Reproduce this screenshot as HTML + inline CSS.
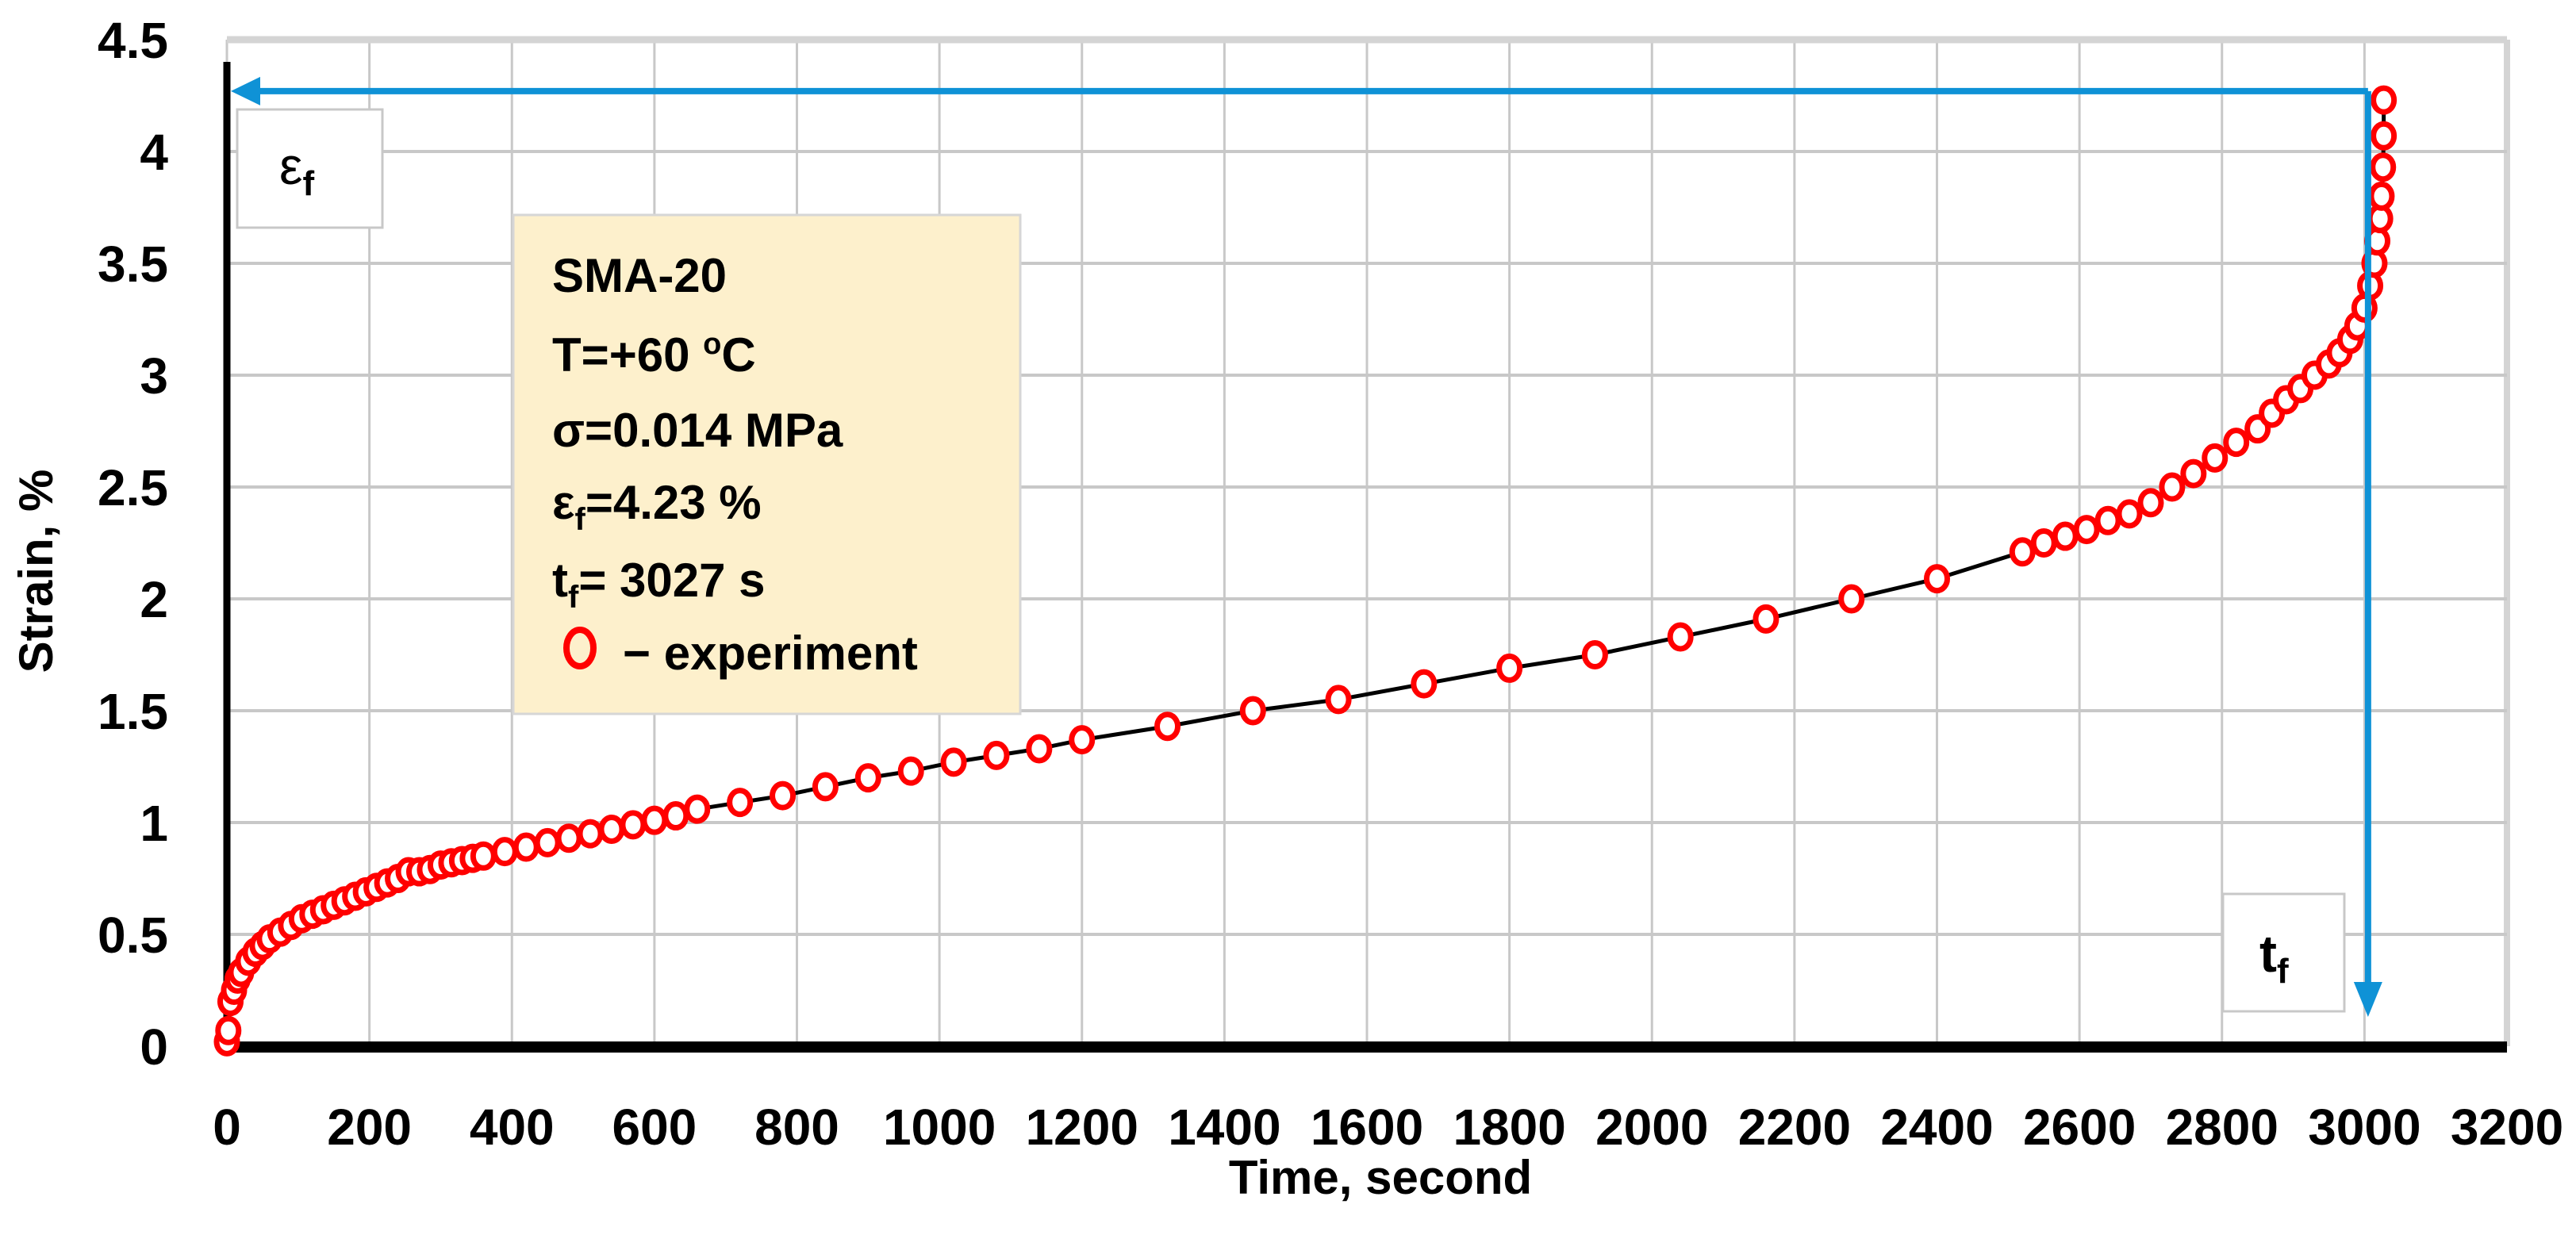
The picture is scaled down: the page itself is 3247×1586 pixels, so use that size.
<!DOCTYPE html>
<html><head><meta charset="utf-8"><style>
html,body{margin:0;padding:0;background:#fff;}
svg{display:block;font-family:"Liberation Sans",sans-serif;font-weight:bold;}
</style></head><body>
<svg id="chart" width="3247" height="1586" viewBox="0 0 3247 1586" xmlns="http://www.w3.org/2000/svg">
<g id="grid"></g>
<g id="axes"></g>
<g id="series"></g>
<g id="arrows"></g>
<g id="labels"></g>
</svg>
<script>
const xTicks = [0,200,400,600,800,1000,1200,1400,1600,1800,2000,2200,2400,2600,2800,3000,3200];
const yTicks = [0,0.5,1,1.5,2,2.5,3,3.5,4,4.5];
const yTickLabels = ["0","0.5","1","1.5","2","2.5","3","3.5","4","4.5"];
const timeS = [0,2,5,10,15,20,30,40,50,60,75,90,105,120,135,150,165,180,195,210,225,240,255,270,285,300,315,330,345,360,390,420,450,480,510,540,570,600,630,660,720,780,840,900,960,1020,1080,1140,1200,1320,1440,1560,1680,1800,1920,2040,2160,2280,2400,2520,2550,2580,2610,2640,2670,2700,2730,2760,2790,2820,2850,2870,2890,2910,2930,2950,2965,2980,2990,3000,3008,3014,3018,3022,3024,3026,3027,3027];
const strain = [0.02,0.07,0.2,0.25,0.3,0.33,0.38,0.42,0.45,0.48,0.51,0.54,0.57,0.59,0.61,0.63,0.65,0.67,0.69,0.71,0.73,0.75,0.78,0.78,0.79,0.81,0.82,0.83,0.84,0.85,0.87,0.89,0.91,0.93,0.95,0.97,0.99,1.01,1.03,1.06,1.09,1.12,1.16,1.2,1.23,1.27,1.3,1.33,1.37,1.43,1.5,1.55,1.62,1.69,1.75,1.83,1.91,2.0,2.09,2.21,2.25,2.28,2.31,2.35,2.38,2.43,2.5,2.56,2.63,2.7,2.76,2.83,2.89,2.94,3.0,3.05,3.1,3.16,3.22,3.3,3.4,3.5,3.6,3.7,3.8,3.93,4.07,4.23];
const epsF = 4.27;
const tF = 3005;

const NS="http://www.w3.org/2000/svg";
const X0=286, X1=3160, Y0=1319, Y1=50;
const xMax=3200, yMax=4.5;
function sx(v){return X0+(v/xMax)*(X1-X0);}
function sy(v){return Y0-(v/yMax)*(Y0-Y1);}
function mk(tag,attrs,parent,text){const e=document.createElementNS(NS,tag);for(const k in attrs)e.setAttribute(k,attrs[k]);if(text!==undefined)e.textContent=text;parent.appendChild(e);return e;}
const grid=document.getElementById('grid'),axes=document.getElementById('axes'),series=document.getElementById('series'),arrows=document.getElementById('arrows'),labels=document.getElementById('labels');

xTicks.forEach(t=>{
  const l=mk('line',{x1:sx(t),x2:sx(t),y1:Y1,y2:Y0,stroke:t===3200?'#d4d4d4':'#c8c8c8','stroke-width':t===3200?8:3},grid);
  
  
  const tx=mk('text',{x:sx(t),y:1443,'text-anchor':'middle','font-size':64,fill:'#000'},labels,String(t));
  
  
});
yTicks.forEach((v,i)=>{
  const l=mk('line',{x1:X0,x2:X1,y1:sy(v),y2:sy(v),stroke:i===yTicks.length-1?'#d4d4d4':'#c8c8c8','stroke-width':i===yTicks.length-1?9:4},grid);
  
  
  const tx=mk('text',{x:212,y:sy(v)+23,'text-anchor':'end','font-size':64,fill:'#000'},labels,yTickLabels[i]);
  
  
});
const ya=mk('line',{x1:X0,x2:X0,y1:Y1+28,y2:Y0+8,stroke:'#000','stroke-width':9},axes);


const xa=mk('line',{x1:X0-4,x2:X1,y1:Y0+1,y2:Y0+1,stroke:'#000','stroke-width':14},axes);



let d='';timeS.forEach((t,i)=>{d+=(i?'L':'M')+sx(t)+','+sy(strain[i]);});
const pl=mk('path',{d:d,fill:'none',stroke:'#000','stroke-width':5},series);


timeS.forEach((t,i)=>{
  const c=mk('ellipse',{cx:sx(t),cy:sy(strain[i]),rx:13,ry:15,fill:'#fff',stroke:'#ff0000','stroke-width':7},series);
  
  
});

const ay=sy(epsF), ax=sx(tF);
const h=mk('line',{x1:ax,x2:X0+30,y1:ay,y2:ay,stroke:'#0f92d6','stroke-width':8},arrows);


const hh=mk('polygon',{points:`${X0+5},${ay} ${X0+42},${ay-18} ${X0+42},${ay+18}`,fill:'#0f92d6'},arrows);


const v=mk('line',{x1:ax,x2:ax,y1:ay,y2:1245,stroke:'#0f92d6','stroke-width':8},arrows);


const vh=mk('polygon',{points:`${ax},1282 ${ax-18},1238 ${ax+18},1238`,fill:'#0f92d6'},arrows);


</script>
<svg style="position:absolute;left:0;top:0" width="3247" height="1586" xmlns="http://www.w3.org/2000/svg" font-family="Liberation Sans, sans-serif" font-weight="bold">
<g>
<rect x="299" y="138" width="183" height="149" fill="#fff" stroke="#c8c8c8" stroke-width="3"/>
<text x="352" y="232" font-size="66" font-weight="normal">ε<tspan font-size="44" dy="14" font-weight="bold">f</tspan></text>
</g>
<g>
<rect x="2802" y="1127" width="153" height="148" fill="#fff" stroke="#c8c8c8" stroke-width="3"/>
<text x="2848" y="1225" font-size="66">t<tspan font-size="44" dy="14">f</tspan></text>
</g>
<g>
<rect x="647" y="271" width="639" height="629" fill="#fdf0cc" stroke="#d6d6d6" stroke-width="3"/>
<g font-size="60" fill="#000" font-weight="normal" style="font-weight:600">
<text x="696" y="368">SMA-20</text>
<text x="696" y="468">T=+60 <tspan font-size="38" dy="-22">o</tspan><tspan dy="22">C</tspan></text>
<text x="696" y="563">σ=0.014 MPa</text>
<text x="696" y="654">ε<tspan font-size="40" dy="14">f</tspan><tspan dy="-14">=4.23 %</tspan></text>
<text x="696" y="752">t<tspan font-size="40" dy="14">f</tspan><tspan dy="-14">= 3027 s</tspan></text>
<text x="785" y="844">− experiment</text>
</g>
<ellipse cx="731" cy="817" rx="17" ry="23" fill="none" stroke="#ff0000" stroke-width="8"/>
</g>
<text x="1740" y="1505" text-anchor="middle" font-size="60">Time, second</text>
<text transform="translate(66,720) rotate(-90)" text-anchor="middle" font-size="60">Strain, %</text>
</svg>
</body></html>
